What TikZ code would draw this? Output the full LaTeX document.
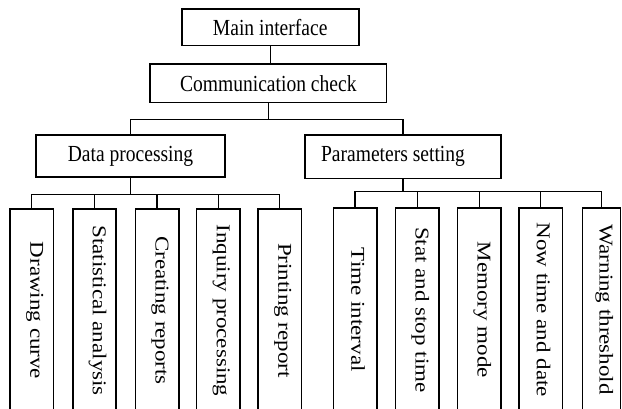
\documentclass[tikz,border=0pt]{standalone}
\usepackage{fontspec}
\setmainfont{Liberation Serif}
\newcommand{\htxt}[1]{\scalebox{0.85}[1]{#1}}
\newcommand{\vtxt}[1]{\scalebox{0.85}[1]{\rotatebox{-90}{\raisebox{3.5pt}[\height][\depth]{#1}}}}
\begin{document}
\begin{tikzpicture}[x=1pt,y=-1pt,
  box/.style={draw,line width=1.6pt,rectangle,inner sep=0pt,font=\fontsize{23}{27}\selectfont},
  leaf/.style={box,minimum width=43.4pt,minimum height=203pt},
  conn/.style={line width=1.1pt}]
\useasboundingbox (0,0) rectangle (622,409);
\clip (0,0) rectangle (622,409);
\node[box,minimum width=177pt,minimum height=36.7pt] (main) at (270.2,27.3) {\htxt{Main interface}};
\node[box,minimum width=236.7pt,minimum height=38.7pt] (comm) at (268.3,83.3) {\htxt{Communication check}};
\node[box,minimum width=189pt,minimum height=41.7pt] (data) at (130.5,156) {\htxt{Data processing}};
\node[box,minimum width=196pt,minimum height=43.3pt] (param) at (403,156.7) {\htxt{\makebox[0pt]{\hspace*{-23.5pt}Parameters setting}}};
% left leaves
\node[leaf] (l1) at (31.7,310.5) {\vtxt{Drawing curve}};
\node[leaf] (l2) at (94.5,310.5) {\vtxt{Statistical analysis}};
\node[leaf] (l3) at (157,310.5) {\vtxt{Creating reports}};
\node[leaf] (l4) at (218.3,310.5) {\vtxt{Inquiry processing}};
\node[leaf] (l5) at (279.7,310.5) {\vtxt{Printing report}};
% right leaves
\node[leaf] (r1) at (355,309.8) {\vtxt{Time interval}};
\node[leaf] (r2) at (417.3,309.8) {\vtxt{Stat and stop time}};
\node[leaf] (r3) at (479.3,309.8) {\vtxt{Memory mode}};
\node[leaf] (r4) at (540.7,309.8) {\vtxt{Now time and date}};
\node[leaf,minimum width=38.2pt] (r5) at (601.4,309.8) {\vtxt{Warning threshold}};
% bus coordinates
\coordinate (cbus) at (268.3,119.3);
\coordinate (dbus) at (130.5,194.7);
\coordinate (pbus) at (403,191.7);
% connectors
\draw[conn] (main.south) -- (main.south |- comm.north);
\draw[conn] (comm.south) -- (cbus);
\draw[conn] (data.north) |- (cbus);
\draw[conn] (param.north) |- (cbus);
\draw[conn] (data.south) -- (dbus);
\foreach \n in {l1,l2,l3,l4,l5} \draw[conn] (\n.north) |- (dbus);
\draw[conn] (param.south) -- (pbus);
\foreach \n in {r1,r2,r3,r4,r5} \draw[conn] (\n.north) |- (pbus);
\end{tikzpicture}
\end{document}
